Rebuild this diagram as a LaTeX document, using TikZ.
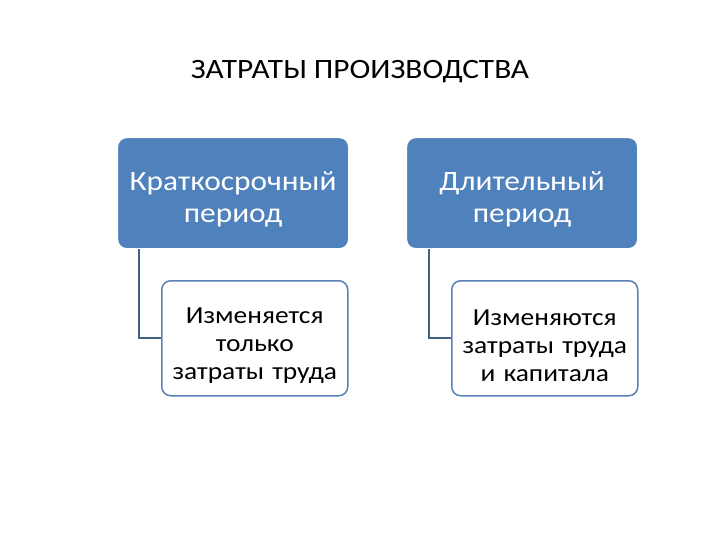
\documentclass[tikz,border=0pt]{standalone}
\usepackage{fontspec}
\setmainfont{Carlito}[FakeStretch=1.12]
\definecolor{officeblue}{HTML}{4F81BD}
\definecolor{childedge}{HTML}{5A82B6}
\definecolor{linkblue}{HTML}{445F82}
\begin{document}
\begin{tikzpicture}[x=1pt,y=-1pt,
  parentbox/.style={draw=white,line width=1.2pt,fill=officeblue,rounded corners=9pt,
    minimum width=231pt,minimum height=111pt,text width=228pt,align=center,
    text=white,font=\fontsize{28}{32}\selectfont,anchor=north west,inner sep=0pt,
    execute at begin node={\rule{0pt}{31pt}}},
  childbox/.style={draw=childedge,line width=1.5pt,fill=white,rounded corners=9pt,
    minimum width=186pt,minimum height=115pt,text width=184pt,align=center,
    text=black,font=\fontsize{24.5}{28}\selectfont,anchor=north west,inner sep=0pt,
    execute at begin node={\rule{0pt}{30pt}}},
  link/.style={draw=linkblue,line width=1.5pt}]
\useasboundingbox (0,0) rectangle (720,540);
\node[font=\fontsize{28}{32}\selectfont] (title) at (360,72) {ЗАТРАТЫ ПРОИЗВОДСТВА};
\node[parentbox] (p1) at (117,137) {Краткосрочный\\период};
\node[parentbox] (p2) at (406,137) {Длительный\\период};
\node[childbox] (c1) at (161,280) {Изменяется\\только\\затраты труда};
\node[childbox] (c2) at (451,280) {Изменяются\\затраты труда\\и капитала};
\coordinate (k1) at (139,338);
\coordinate (k2) at (429,338);
\draw[link] (p1.south west -| k1) -- (k1) -- (c1.west |- k1);
\draw[link] (p2.south west -| k2) -- (k2) -- (c2.west |- k2);
\end{tikzpicture}
\end{document}
